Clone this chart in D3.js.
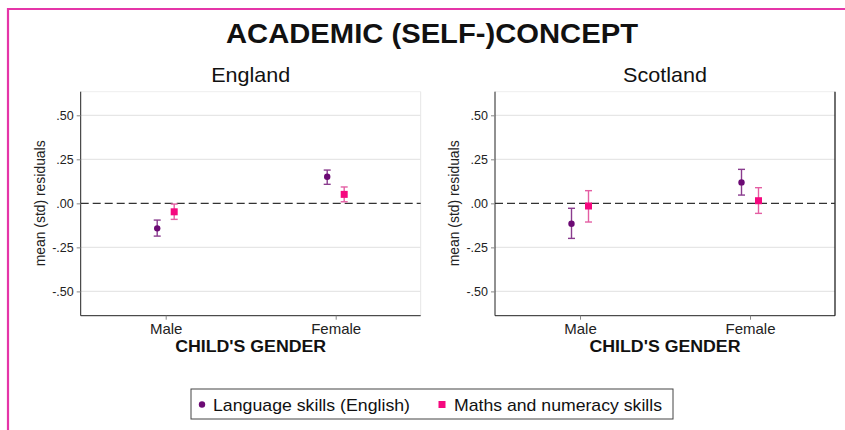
<!DOCTYPE html>
<html><head><meta charset="utf-8">
<script src="https://cdn.jsdelivr.net/npm/d3@7"></script>
<style>body{margin:0;background:#fff}svg{display:block;font-family:"Liberation Sans",Arial,sans-serif}</style>
</head><body>
<svg id="c" width="845" height="430"></svg>
<script>
const categories = ["Male", "Female"];
const panels = ["England", "Scotland"];
const seriesNames = ["Language skills (English)", "Maths and numeracy skills"];
const yTicks = [0.5, 0.25, 0, -0.25, -0.5];
const yTickLabels = [".50", ".25", ".00", "-.25", "-.50"];
// England: mean, lower, upper per category
const englandLanguage = [[-0.142, -0.186, -0.095], [0.151, 0.108, 0.189]];
const englandMaths    = [[-0.048, -0.091, -0.004], [0.051, 0.009, 0.093]];
const scotlandLanguage = [[-0.116, -0.199, -0.028], [0.119, 0.047, 0.193]];
const scotlandMaths    = [[-0.015, -0.106, 0.072], [0.015, -0.057, 0.089]];

const data = {England: [englandLanguage, englandMaths], Scotland: [scotlandLanguage, scotlandMaths]};
const colors = ["#6c0a74", "#f5087f"];
const barColors = ["#8a3c8e", "#e45ea3"];

const svg = d3.select("#c");
svg.append("path").attr("d", "M8,440 L8,9 L850,9").attr("fill", "none")
  .attr("stroke", "#e535a8").attr("stroke-width", 2.2);

svg.append("text").attr("x", 432).attr("y", 43).attr("text-anchor", "middle")
  .attr("font-size", 27).attr("font-weight", "bold").attr("fill", "#111")
  .attr("textLength", 412).attr("lengthAdjust", "spacingAndGlyphs")
  .text("ACADEMIC (SELF-)CONCEPT");

const plotLefts = [80.7, 495];
const titleLens = [79, 84];
const plotW = 340, plotTop = 91.7, plotBottom = 315.7;
const y = d3.scaleLinear().domain([-0.638, 0.634]).range([plotBottom, plotTop]);

panels.forEach((p, pi) => {
  const L = plotLefts[pi];
  const x = d3.scalePoint().domain(categories).range([L, L + plotW]).padding(0.5);
  const g = svg.append("g");
  g.selectAll(".grid").data(yTicks.filter(d => d !== 0)).enter().append("line")
    .attr("x1", L).attr("x2", L + plotW).attr("y1", d => y(d)).attr("y2", d => y(d))
    .attr("stroke", "#e6e6e6").attr("stroke-width", 1.2);
  g.append("line").attr("x1", L).attr("x2", L + plotW).attr("y1", plotTop).attr("y2", plotTop)
    .attr("stroke", "#eeeeee");
  g.append("line").attr("x1", L + plotW).attr("x2", L + plotW).attr("y1", plotTop).attr("y2", plotBottom)
    .attr("stroke", pi === 0 ? "#e6e6e6" : "#222").attr("stroke-width", pi === 0 ? 1 : 1.3);
  g.append("line").attr("x1", L).attr("x2", L + plotW).attr("y1", y(0)).attr("y2", y(0))
    .attr("stroke", "#333").attr("stroke-width", 1.2).attr("stroke-dasharray", "8,4");
  const ya = d3.axisLeft(y).tickValues(yTicks).tickFormat((d, i) => yTickLabels[i]).tickSize(4).tickPadding(3);
  const yg = g.append("g").attr("transform", `translate(${L},0)`).call(ya);
  yg.select(".domain").attr("stroke", "#222").attr("d", `M0,${plotTop}V${plotBottom}`);
  yg.selectAll(".tick line").attr("stroke", "#888");
  yg.selectAll("text").attr("font-size", 12.5).attr("fill", "#222").attr("font-family", "Liberation Sans, Arial");
  const xa = d3.axisBottom(x).tickSize(4).tickPadding(4);
  const xg = g.append("g").attr("transform", `translate(0,${plotBottom})`).call(xa);
  xg.select(".domain").attr("stroke", "#222").attr("d", `M${L},0H${L + plotW}`);
  xg.selectAll(".tick line").attr("stroke", "#888");
  xg.selectAll("text").attr("font-size", 15).attr("fill", "#222").attr("font-family", "Liberation Sans, Arial");
  g.append("text").attr("x", L + plotW / 2).attr("y", 82).attr("text-anchor", "middle")
    .attr("font-size", 21).attr("fill", "#111")
    .attr("textLength", titleLens[pi]).attr("lengthAdjust", "spacingAndGlyphs").text(p);
  g.append("text").attr("x", L + plotW / 2).attr("y", 352).attr("text-anchor", "middle")
    .attr("font-size", 16).attr("font-weight", "bold").attr("fill", "#111")
    .attr("textLength", 151).attr("lengthAdjust", "spacingAndGlyphs").text("CHILD'S GENDER");
  g.append("text").attr("transform", `translate(${L - 36},${y(0)}) rotate(-90)`).attr("text-anchor", "middle")
    .attr("font-size", 14).attr("fill", "#222")
    .attr("textLength", 126).attr("lengthAdjust", "spacingAndGlyphs").text("mean (std) residuals");
  const offsets = [-8.5, 8.5];
  data[p].forEach((ser, si) => {
    ser.forEach((v, ci) => {
      const cx = x(categories[ci]) + offsets[si];
      const sg = g.append("g");
      sg.append("line").attr("x1", cx).attr("x2", cx).attr("y1", y(v[1])).attr("y2", y(v[2]))
        .attr("stroke", barColors[si]).attr("stroke-width", 1.4);
      [v[1], v[2]].forEach(e => sg.append("line").attr("x1", cx - 3.5).attr("x2", cx + 3.5)
        .attr("y1", y(e)).attr("y2", y(e)).attr("stroke", barColors[si]).attr("stroke-width", 1.4));
      if (si === 0) sg.append("circle").attr("cx", cx).attr("cy", y(v[0])).attr("r", 3.2).attr("fill", colors[0]);
      else sg.append("rect").attr("x", cx - 3.5).attr("y", y(v[0]) - 3.5).attr("width", 7).attr("height", 7).attr("fill", colors[1]);
    });
  });
});

const lg = svg.append("g");
lg.append("rect").attr("x", 191).attr("y", 389).attr("width", 482).attr("height", 30)
  .attr("fill", "#fff").attr("stroke", "#444").attr("stroke-width", 1);
lg.append("circle").attr("cx", 202).attr("cy", 404.5).attr("r", 3.2).attr("fill", colors[0]);
lg.append("text").attr("x", 213).attr("y", 410.5).attr("font-size", 17).attr("fill", "#111")
  .attr("textLength", 197).attr("lengthAdjust", "spacingAndGlyphs").text(seriesNames[0]);
lg.append("rect").attr("x", 438.5).attr("y", 401).attr("width", 7).attr("height", 7).attr("fill", colors[1]);
lg.append("text").attr("x", 454).attr("y", 410.5).attr("font-size", 17).attr("fill", "#111")
  .attr("textLength", 208).attr("lengthAdjust", "spacingAndGlyphs").text(seriesNames[1]);
</script>
</body></html>
